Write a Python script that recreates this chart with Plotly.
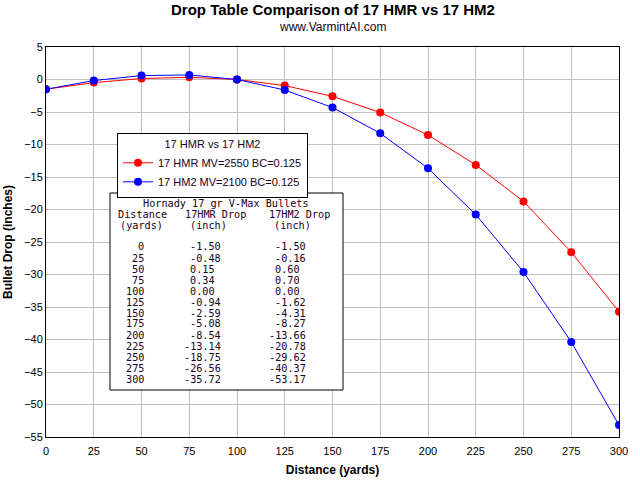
import plotly.graph_objects as go

distance = [0, 25, 50, 75, 100, 125, 150, 175, 200, 225, 250, 275, 300]
hmr_drop = [-1.50, -0.48, 0.15, 0.34, 0.00, -0.94, -2.59, -5.08, -8.54, -13.14, -18.75, -26.56, -35.72]
hm2_drop = [-1.50, -0.16, 0.60, 0.70, 0.00, -1.62, -4.31, -8.27, -13.66, -20.78, -29.62, -40.37, -53.17]
x_ticks = list(range(0, 301, 25))
y_ticks = list(range(-55, 6, 5))

hmr_name = "17 HMR MV=2550 BC=0.125"
hm2_name = "17 HM2 MV=2100 BC=0.125"
legend_title = "17 HMR vs 17 HM2"
title = "Drop Table Comparison of 17 HMR vs 17 HM2"
subtitle = "www.VarmintAI.com"
table_title = "Hornady 17 gr V-Max Bullets"
table_head1 = ["Distance", "17HMR Drop", "17HM2 Drop"]
table_head2 = ["(yards)", "(inch)", "(inch)"]

# figure geometry (pixels)
W, H = 640, 480
L, R, T, B = 46, 21, 47, 43
PW, PH = W - L - R, H - T - B


def px_x(p):
    return (p - L) / PW


def px_y(p):
    return (H - B - p) / PH


def fmt(v):
    return f"{v:.2f}" if v < 0 else f"{v:.2f}&nbsp;"


TFONT = dict(family="DejaVu Sans Mono", size=10.2, color="#200020")
annotations = [
    dict(text=f"<b>{title}</b>", x=0.5, y=px_y(10), xref="paper", yref="paper",
         showarrow=False, xanchor="center", yanchor="middle", borderpad=0,
         font=dict(family="Liberation Sans, Arial", size=15, color="black")),
    dict(text=subtitle, x=0.5, y=px_y(27), xref="paper", yref="paper",
         showarrow=False, xanchor="center", yanchor="middle", borderpad=0,
         font=dict(family="Liberation Sans, Arial", size=12, color="#200020")),
]


def tnote(text, xp, yp, anchor):
    annotations.append(dict(text=text, x=px_x(xp), y=px_y(yp), xref="paper", yref="paper",
                            showarrow=False, xanchor=anchor, yanchor="middle",
                            borderpad=0, font=TFONT))


# table column positions (pixels)
c0 = 116.7
cw = 7.03
tnote(table_title, c0 + 15.5 * cw, 203, "center")
tnote(table_head1[0], c0, 214, "left")
tnote(table_head1[1], c0 + 14 * cw, 214, "center")
tnote(table_head1[2], c0 + 26 * cw, 214, "center")
tnote(table_head2[0], c0 + 3.5 * cw, 225, "center")
tnote(table_head2[1], c0 + 13 * cw, 225, "center")
tnote(table_head2[2], c0 + 25 * cw, 225, "center")
for i, (d, a, b) in enumerate(zip(distance, hmr_drop, hm2_drop)):
    yp = 247 + 11 * i
    tnote(str(d), c0 + 4 * cw, yp, "right")
    tnote(fmt(a), c0 + 15 * cw, yp, "right")
    tnote(fmt(b), c0 + 27 * cw, yp, "right")

fig = go.Figure()
fig.add_trace(go.Scatter(x=distance, y=hmr_drop, mode="lines+markers", name=hmr_name,
                         line=dict(color="#ff0000", width=1),
                         marker=dict(color="#ff0000", size=8)))
fig.add_trace(go.Scatter(x=distance, y=hm2_drop, mode="lines+markers", name=hm2_name,
                         line=dict(color="#0000ff", width=1),
                         marker=dict(color="#0000ff", size=8)))

axis_common = dict(showline=True, linecolor="black", linewidth=1, mirror=True,
                   showgrid=True, gridcolor="#c0c0c0", gridwidth=1, zeroline=False,
                   ticks="", automargin=False,
                   tickfont=dict(family="Liberation Sans, Arial", size=11, color="black"))

fig.update_xaxes(range=[0, 300], tickvals=x_ticks, ticklabelstandoff=4, **axis_common,
                 title=dict(text="<b>Distance (yards)</b>", standoff=9,
                            font=dict(family="Liberation Sans, Arial", size=12, color="black")))
fig.update_yaxes(range=[-55, 5], tickvals=y_ticks, **axis_common,
                 title=dict(text="<b>Bullet Drop (inches)</b>", standoff=8,
                            font=dict(family="Liberation Sans, Arial", size=12, color="black")))

fig.update_layout(
    width=W, height=H,
    margin=dict(l=L, r=R, t=T, b=B, pad=0),
    paper_bgcolor="white", plot_bgcolor="white",
    showlegend=True,
    legend=dict(x=px_x(117), y=px_y(133), xanchor="left", yanchor="top",
                bgcolor="white", bordercolor="black", borderwidth=1,
                title=dict(text=legend_title, side="top center",
                           font=dict(family="Liberation Sans, Arial", size=11, color="#200020")),
                font=dict(family="Liberation Sans, Arial", size=11, color="#200020"),
                tracegroupgap=0, itemwidth=30),
    shapes=[dict(type="rect", xref="paper", yref="paper",
                 x0=px_x(110), x1=px_x(343), y0=px_y(390), y1=px_y(193),
                 line=dict(color="black", width=1), fillcolor="white", layer="above")],
    annotations=annotations,
)

fig.write_html("out.html", config={"displayModeBar": False},
               post_script="document.body.style.margin='0';")
